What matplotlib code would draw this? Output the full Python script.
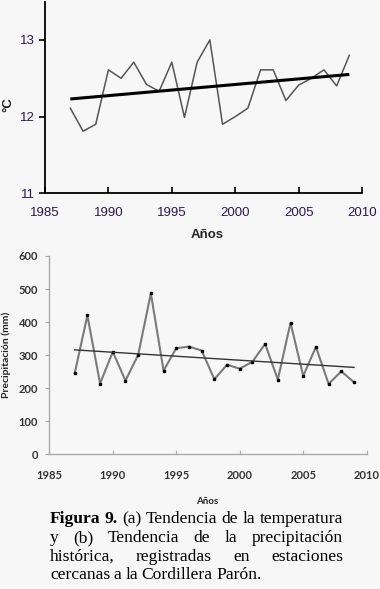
import matplotlib
matplotlib.use('Agg')
import matplotlib.pyplot as plt

W, H = 380, 589
BG = '#f7f7f7'

years = list(range(1987, 2010))
temp = [12.11, 11.81, 11.90, 12.61, 12.50, 12.71, 12.42, 12.33, 12.71, 11.99, 12.71, 13.00,
        11.90, 12.00, 12.11, 12.61, 12.61, 12.21, 12.41, 12.50, 12.61, 12.40, 12.80]
temp_trend = [12.23, 12.55]
precip = [245, 420, 214, 310, 223, 301, 487, 253, 321, 326, 314,
          227, 271, 259, 280, 334, 226, 398, 237, 325, 213, 251, 218]
precip_trend = [316, 263]
trend_years = [years[0], years[-1]]

xticks = [1985, 1990, 1995, 2000, 2005, 2010]
temp_ticks = [11, 12, 13]
precip_ticks = [0, 100, 200, 300, 400, 500, 600]

caption = [
    [("Figura", 'bold'), ("9.", 'bold'), ("(a)", 'normal'), ("Tendencia", 'normal'),
     ("de", 'normal'), ("la", 'normal'), ("temperatura", 'normal')],
    [("y", 'normal'), ("(b)", 'normal'), ("Tendencia", 'normal'), ("de", 'normal'),
     ("la", 'normal'), ("precipitación", 'normal')],
    [("histórica,", 'normal'), ("registradas", 'normal'), ("en", 'normal'),
     ("estaciones", 'normal')],
    [("cercanas", 'normal'), ("a", 'normal'), ("la", 'normal'), ("Cordillera", 'normal'),
     ("Parón.", 'normal')],
]


def fx(px):
    return px / W


def fy(py):
    return 1 - py / H


fig = plt.figure(figsize=(W / 100, H / 100), dpi=100, facecolor=BG)

# (a) temperatura
ax1 = fig.add_axes([fx(45), fy(193.3), fx(362 - 45), (193.3 - 1.6) / H])
ax1.set_facecolor(BG)
ax1.plot(years, temp, color='#555555', lw=1.1)
ax1.plot(trend_years, temp_trend, color='black', lw=2.2, solid_capstyle='butt')
ax1.set_xlim(1985, 2010)
ax1.set_ylim(11, 13.5)
ax1.set_xticks(xticks)
ax1.set_yticks(temp_ticks)
for s in ['top', 'right']:
    ax1.spines[s].set_visible(False)
for s in ['left', 'bottom']:
    ax1.spines[s].set_linewidth(1.3)
ax1.tick_params(axis='y', direction='out', length=4, width=1.2, pad=3,
                labelsize=9.5, labelcolor='#2b1850')
ax1.tick_params(axis='x', direction='in', length=4, width=1.2, pad=10,
                labelsize=9.5, labelcolor='#2b1850')
for lab in ax1.get_xticklabels() + ax1.get_yticklabels():
    lab.set_family('Liberation Sans')
fig.text(fx(206.7), fy(235), 'Años', ha='center', va='center', fontsize=9.5,
         fontweight='bold', family='Liberation Sans', color='#222222')
fig.text(fx(8), fy(105), '°C', ha='center', va='center', rotation=90, fontsize=9.5,
         fontweight='bold', family='Liberation Sans', color='#222222')

# (b) precipitación
ax2 = fig.add_axes([fx(49.3), fy(454.3), fx(366.7 - 49.3), (454.3 - 256) / H])
ax2.set_facecolor(BG)
ax2.plot(years, precip, color='#7a7a7a', lw=1.5, marker='s', ms=1.5,
         mfc='black', mec='black')
ax2.plot(trend_years, precip_trend, color='#333333', lw=1.0)
ax2.set_xlim(1985, 2010)
ax2.set_ylim(0, 600)
ax2.set_xticks(xticks)
ax2.set_yticks(precip_ticks)
for s in ['top', 'right']:
    ax2.spines[s].set_visible(False)
for s in ['left', 'bottom']:
    ax2.spines[s].set_color('#aaaaaa')
    ax2.spines[s].set_linewidth(1.0)
ax2.tick_params(axis='y', direction='out', length=3, width=0.8, color='#aaaaaa', pad=5,
                labelsize=8, labelcolor='#333333')
ax2.tick_params(axis='x', direction='in', length=3, width=0.8, color='#aaaaaa', pad=11,
                labelsize=8, labelcolor='#333333')
for lab in ax2.get_xticklabels() + ax2.get_yticklabels():
    lab.set_family('Lato')
    lab.set_fontweight('bold')
fig.text(fx(206.7), fy(501), 'Años', ha='center', va='center', fontsize=7,
         fontweight='bold', family='Lato', color='#222222')
fig.text(fx(6), fy(355), 'Precipitación (mm)', ha='center', va='center', rotation=90,
         fontsize=7.5, fontweight='bold', family='Lato', color='#222222')

# caption, justified
renderer = fig.canvas.get_renderer()
x0, x1 = 50, 343
baselines = [523.3, 542, 560.7, 579.3]
cap_size = 12.6
for i, line in enumerate(caption):
    texts = []
    for word, wt in line:
        t = fig.text(0, fy(baselines[i]), word, fontsize=cap_size, fontweight=wt,
                     family='Liberation Serif', va='baseline', ha='left', color='black')
        texts.append(t)
    widths = [t.get_window_extent(renderer).width for t in texts]
    if i < len(caption) - 1:
        gap = (x1 - x0 - sum(widths)) / (len(texts) - 1)
    else:
        gap = 3.6
    x = x0
    for t, w in zip(texts, widths):
        t.set_x(fx(x))
        x += w + gap

fig.savefig('out.png', dpi=100, facecolor=BG)
